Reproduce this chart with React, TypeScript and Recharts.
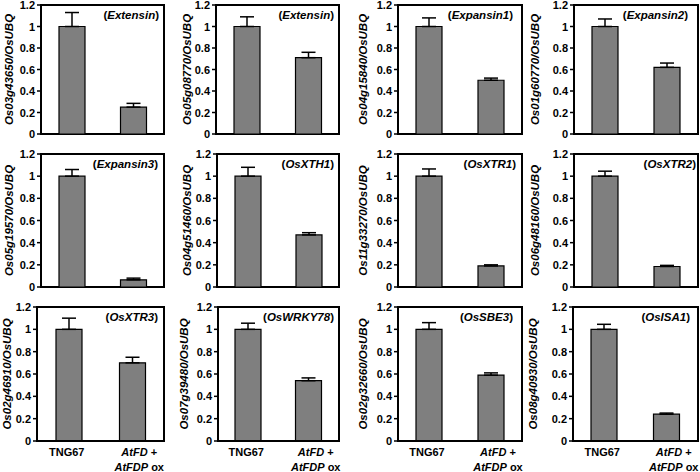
import React from 'react';
import { BarChart, Bar, XAxis, YAxis, ErrorBar, ReferenceArea } from 'recharts';

// ---------------- data ----------------
const categories = ['TNG67', 'AtFD + AtFDP ox'];
const geneIds = [
  'Os03g43650', 'Os05g08770', 'Os04g15840', 'Os01g60770',
  'Os05g19570', 'Os04g51460', 'Os11g33270', 'Os06g48160',
  'Os02g46910', 'Os07g39480', 'Os02g32660', 'Os08g40930',
];
const refGene = 'OsUBQ';
const geneNames = [
  'Extensin', 'Extensin', 'Expansin1', 'Expansin2',
  'Expansin3', 'OsXTH1', 'OsXTR1', 'OsXTR2',
  'OsXTR3', 'OsWRKY78', 'OsSBE3', 'OsISA1',
];
const controlValues = [1, 1, 1, 1, 1, 1, 1, 1, 1, 1, 1, 1];
const controlErrors = [0.13, 0.09, 0.08, 0.07, 0.06, 0.08, 0.065, 0.045, 0.1, 0.055, 0.06, 0.045];
const oxValues = [0.25, 0.71, 0.5, 0.62, 0.065, 0.47, 0.19, 0.185, 0.7, 0.54, 0.59, 0.24];
const oxErrors = [0.035, 0.05, 0.02, 0.04, 0.015, 0.02, 0.01, 0.01, 0.05, 0.025, 0.02, 0.01];
const yTicks = [0, 0.2, 0.4, 0.6, 0.8, 1, 1.2];

// ---------------- layout ----------------
const FONT = '"Liberation Sans", Arial, sans-serif';
const colChartLeft = [0, 176, 352, 527];
const plotLefts = [
  [41, 216, 398, 574],
  [41, 217, 398, 574],
  [37, 218, 398, 573],
];
const plotRights = [164, 339, 522, 698];
const labelXs = [
  [8.5, 187, 363, 535],
  [8.5, 187, 363, 535],
  [7, 184, 363, 533],
];
const rowChartTop = [0, 148, 300];
const plotTops = [5, 154, 307];
const plotBottoms = [134, 287, 441];
const annotRightPad = [5, 5, 9, 10, 6, 5, 6, 2, 6, 5, 9, 8];

const YLabel = (props: any) => {
  const { viewBox, cx, text } = props;
  const cy = viewBox.y + viewBox.height / 2;
  return (
    <text
      x={cx}
      y={cy}
      transform={`rotate(-90 ${cx} ${cy})`}
      textAnchor="middle"
      dominantBaseline="central"
      fontFamily={FONT}
      fontSize={11.5}
      fontWeight="bold"
      fontStyle="italic"
      fill="#000"
    >
      {text}
    </text>
  );
};

const AnnotLabel = (props: any) => {
  const { viewBox, text, pad } = props;
  const x = viewBox.x + viewBox.width - pad;
  const y = viewBox.y + 14;
  return (
    <text x={x} y={y} textAnchor="end" fontFamily={FONT} fontSize={11.5} fontWeight="bold" fill="#000">
      (<tspan fontStyle="italic">{text}</tspan>)
    </text>
  );
};

const YTick = (props: any) => {
  const { x, y, payload } = props;
  return (
    <text
      x={x}
      y={y}
      textAnchor="end"
      dominantBaseline="central"
      fontFamily={FONT}
      fontSize={11}
      fontWeight="bold"
      fill="#000"
    >
      {String(payload.value)}
    </text>
  );
};

const renderWords = (line: string) =>
  line.split(' ').map((w, k) => (
    <tspan key={k} fontStyle={w.startsWith('At') ? 'italic' : 'normal'}>
      {(k > 0 ? ' ' : '') + w}
    </tspan>
  ));

const XTick = (props: any) => {
  const { x, y, payload } = props;
  const value: string = payload.value;
  const common = {
    textAnchor: 'middle' as const,
    fontFamily: FONT,
    fontSize: 11,
    fontWeight: 'bold',
    fill: '#000',
  };
  if (value.indexOf(' + ') < 0) {
    return (
      <text x={x - 2} y={y + 15} {...common}>
        {value}
      </text>
    );
  }
  const parts = value.split(' + ');
  return (
    <g>
      <text x={x + 7} y={y + 15} {...common}>
        {renderWords(parts[0] + ' +')}
      </text>
      <text x={x + 7} y={y + 30} {...common}>
        {renderWords(parts[1])}
      </text>
    </g>
  );
};

const Panel = ({ i }: { i: number }) => {
  const row = Math.floor(i / 4);
  const col = i % 4;
  const left = colChartLeft[col];
  const top = rowChartTop[row];
  const plotLeft = plotLefts[row][col];
  const yAxisWidth = plotLeft - left;
  const width = plotRights[col] - left + 2;
  const isBottom = row === 2;
  const xAxisH = isBottom ? 472 - plotBottoms[row] : 0;
  const marginTop = plotTops[row] - top;
  const marginBottom = isBottom ? 0 : 6;
  const height = plotBottoms[row] - top + xAxisH + marginBottom;
  const data = categories.map((c, k) => ({
    name: c,
    value: k === 0 ? controlValues[i] : oxValues[i],
    err: [0, k === 0 ? controlErrors[i] : oxErrors[i]],
  }));
  const axisLine = { stroke: '#000', strokeWidth: 2 };
  return (
    <div style={{ position: 'absolute', left, top, width, height }}>
      <BarChart
        width={width}
        height={height}
        data={data}
        margin={{ top: marginTop, right: 2, bottom: marginBottom, left: 0 }}
      >
        <XAxis
          dataKey="name"
          height={xAxisH}
          axisLine={axisLine}
          tickLine={false}
          tickSize={0}
          tickMargin={0}
          interval={0}
          tick={isBottom ? <XTick /> : false}
        />
        <YAxis
          width={yAxisWidth}
          domain={[0, 1.2]}
          ticks={yTicks}
          interval={0}
          axisLine={axisLine}
          tickLine={{ stroke: '#000', strokeWidth: 1.5 }}
          tickSize={4}
          tickMargin={2}
          tick={<YTick />}
          label={(p: any) => (
            <YLabel {...p} cx={labelXs[row][col] - left} text={`${geneIds[i]}/${refGene}`} />
          )}
        />
        <Bar dataKey="value" fill="#7f7f7f" stroke="#000" strokeWidth={1.2} barSize={26} isAnimationActive={false}>
          <ErrorBar dataKey="err" direction="y" width={7} stroke="#000" strokeWidth={1.5} />
        </Bar>
        <ReferenceArea
          x1={categories[0]}
          x2={categories[categories.length - 1]}
          y1={0}
          y2={1.2}
          fill="none"
          fillOpacity={0}
          stroke="#000"
          strokeWidth={2}
          strokeOpacity={1}
          label={(p: any) => <AnnotLabel {...p} text={geneNames[i]} pad={annotRightPad[i]} />}
        />
      </BarChart>
    </div>
  );
};

export default function App() {
  return (
    <div
      style={{
        position: 'absolute',
        left: 0,
        top: 0,
        width: 700,
        height: 472,
        background: '#fff',
        overflow: 'hidden',
      }}
    >
      <style>{`.recharts-surface{overflow:visible}`}</style>
      {geneIds.map((_, i) => (
        <Panel key={i} i={i} />
      ))}
    </div>
  );
}
